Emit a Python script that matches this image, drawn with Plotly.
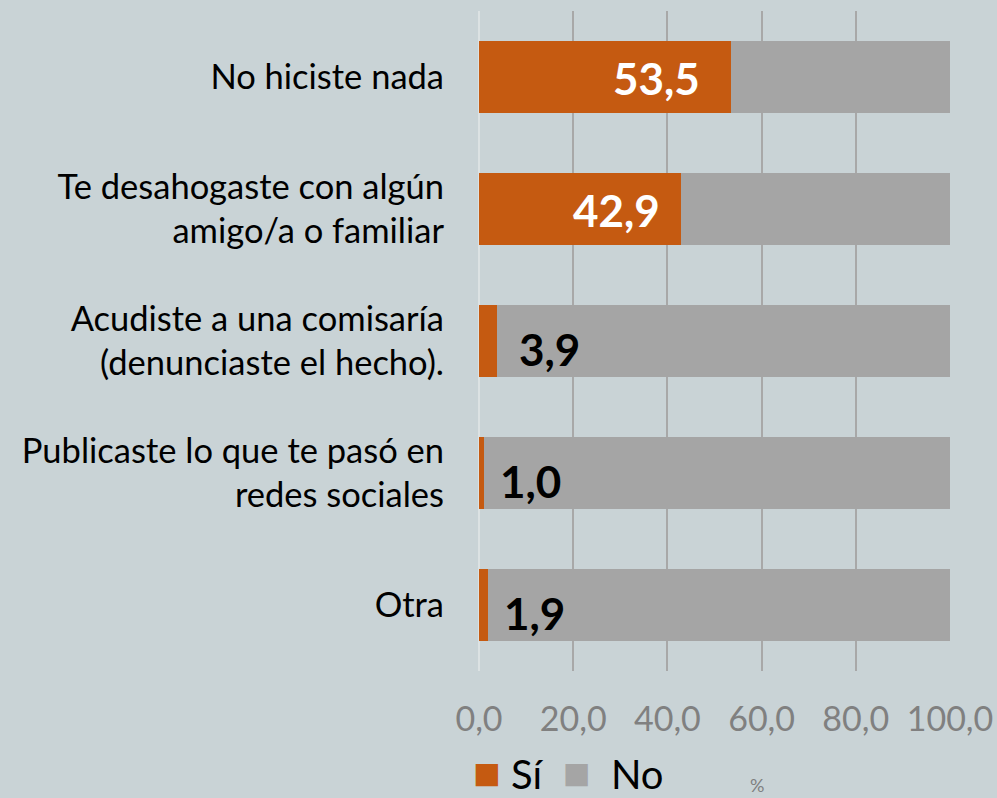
import plotly.graph_objects as go

categorias = ["No hiciste nada",
              "Te desahogaste con algún<br>amigo/a o familiar",
              "Acudiste a una comisaría<br>(denunciaste el hecho).",
              "Publicaste lo que te pasó en<br>redes sociales",
              "Otra"]
si = [53.5, 42.9, 3.9, 1.0, 1.9]
no = [46.5, 57.1, 96.1, 99.0, 98.1]
ticks = [0, 20, 40, 60, 80, 100]
tick_labels = ["0,0", "20,0", "40,0", "60,0", "80,0", "100,0"]

NARANJA = "#C55A11"
GRIS = "#A5A5A5"
FONDO = "#C9D3D6"
FUENTE = "Lato"

fig = go.Figure()
fig.add_trace(go.Bar(y=categorias, x=si, name="Sí", orientation="h",
                     marker=dict(color=NARANJA, line=dict(width=0)), showlegend=False))
fig.add_trace(go.Bar(y=categorias, x=no, name="No", orientation="h",
                     marker=dict(color=GRIS, line=dict(width=0)), showlegend=False))

# etiquetas de datos: las grandes dentro (blancas), las pequeñas fuera (negras)
for cat, v in zip(categorias, si):
    txt = f"{v:.1f}".replace(".", ",")
    if v > 20:
        fig.add_annotation(x=v, y=cat, text=f"<b>{txt}</b>", showarrow=False,
                           xanchor="right", xshift=-29 if v > 50 else -19, yshift=-1,
                           font=dict(family=FUENTE, size=44, color="white"))
    else:
        fig.add_annotation(x=v, y=cat, text=f"<b>{txt}</b>", showarrow=False,
                           xanchor="left", xshift=20 if v > 3 else 14, yshift=-8,
                           font=dict(family=FUENTE, size=44, color="black"))

# leyenda
fig.add_annotation(xref="paper", yref="paper", x=-0.016, y=-0.152, xanchor="left", yanchor="middle",
                   showarrow=False,
                   text=(f"<span style='color:{NARANJA};font-size:46px'>■</span> Sí  "
                         f"<span style='color:{GRIS};font-size:46px'>■</span>  No"),
                   font=dict(family=FUENTE, size=40, color="black"))
fig.add_annotation(xref="paper", yref="paper", x=0.59, y=-0.172, xanchor="center", yanchor="middle",
                   showarrow=False, text="%", font=dict(family=FUENTE, size=18, color="#7F7F7F"))

fig.update_layout(
    barmode="stack", bargap=0.455,
    width=997, height=798, autosize=False,
    margin=dict(l=479, r=47, t=11, b=127),
    paper_bgcolor=FONDO, plot_bgcolor=FONDO,
    font=dict(family=FUENTE, color="black"),
    xaxis=dict(range=[0, 100], tickvals=ticks, ticktext=tick_labels, automargin=False,
               showgrid=True, gridcolor="#A8A8A8", gridwidth=2,
               zeroline=True, zerolinecolor="#DCE2E3", zerolinewidth=2,
               showline=False, ticks="", ticklabelstandoff=25,
               tickfont=dict(family=FUENTE, size=34, color="#808080")),
    yaxis=dict(autorange="reversed", showgrid=False, showline=False, ticks="",
               ticklabelstandoff=34, automargin=False,
               tickfont=dict(family=FUENTE, size=34.5, color="black")),
)

fig.write_html("out.html", config={"displayModeBar": False},
               post_script="document.body.style.margin='0';document.body.style.background='%s';" % FONDO)
